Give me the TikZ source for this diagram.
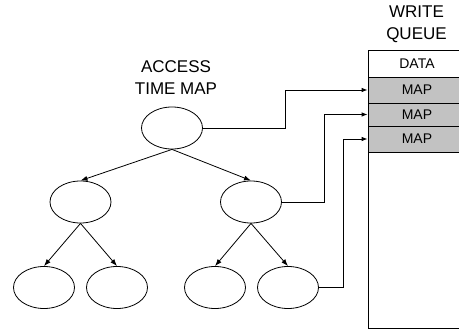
\documentclass[tikz,border=0pt]{standalone}
\usepackage{fontspec}
\setmainfont{Liberation Sans}
\usetikzlibrary{shapes.geometric,arrows.meta}
\begin{document}
\begin{tikzpicture}[x=1pt,y=-1pt,
  tnode/.style={draw,ellipse,line width=0.8pt,minimum width=61pt,minimum height=42pt,inner sep=0pt},
  arr/.style={line width=0.8pt,-{Latex[length=7pt,width=5pt]}},
  conn/.style={line width=0.8pt,-{Latex[length=6pt,width=4.5pt]}},
  qrow/.style={draw,line width=0.8pt,minimum width=98pt,inner sep=0pt,font=\fontsize{14}{16}\selectfont},
  maprow/.style={qrow,fill=gray!48},
  title/.style={align=center,font=\fontsize{17}{21.5}\selectfont,inner sep=0pt}
]
\useasboundingbox (0,0) rectangle (459,331);
\clip (0,0) rectangle (459,331);
% tree
\node[tnode] (root) at (172,128) {};
\node[tnode] (l) at (80.5,202) {};
\node[tnode] (r) at (251,202) {};
\node[tnode] (ll) at (44,287.5) {};
\node[tnode] (lr) at (117,287.5) {};
\node[tnode] (rl) at (215,287.5) {};
\node[tnode] (rr) at (288,287.5) {};
\draw[arr] (root.south) -- (l.north);
\draw[arr] (root.south) -- (r.north);
\draw[arr] (l.south) -- (ll.north);
\draw[arr] (l.south) -- (lr.north);
\draw[arr] (r.south) -- (rl.north);
\draw[arr] (r.south) -- (rr.north);
% labels
\node[title] (atm) at (176,77.5) {ACCESS\\TIME MAP};
\node[title] (wq) at (416.5,24.5) {WRITE\\QUEUE};
% write queue
\node[draw,line width=0.8pt,minimum width=98pt,minimum height=278pt,inner sep=0pt] (queue) at (417,189) {};
\node[qrow,minimum height=27pt] (data) at (417,63.5) {DATA};
\node[maprow,minimum height=26pt] (map1) at (417,90) {MAP};
\node[maprow,minimum height=23pt] (map2) at (417,114.5) {MAP};
\node[maprow,minimum height=26pt] (map3) at (417,139) {MAP};
% connectors
\draw[conn] (root.east) -- ++(82,0) |- (map1.west);
\draw[conn] (r.east) -- ++(42,0) |- (map2.west);
\draw[conn] (rr.east) -- ++(24,0) |- (map3.west);
\end{tikzpicture}
\end{document}
